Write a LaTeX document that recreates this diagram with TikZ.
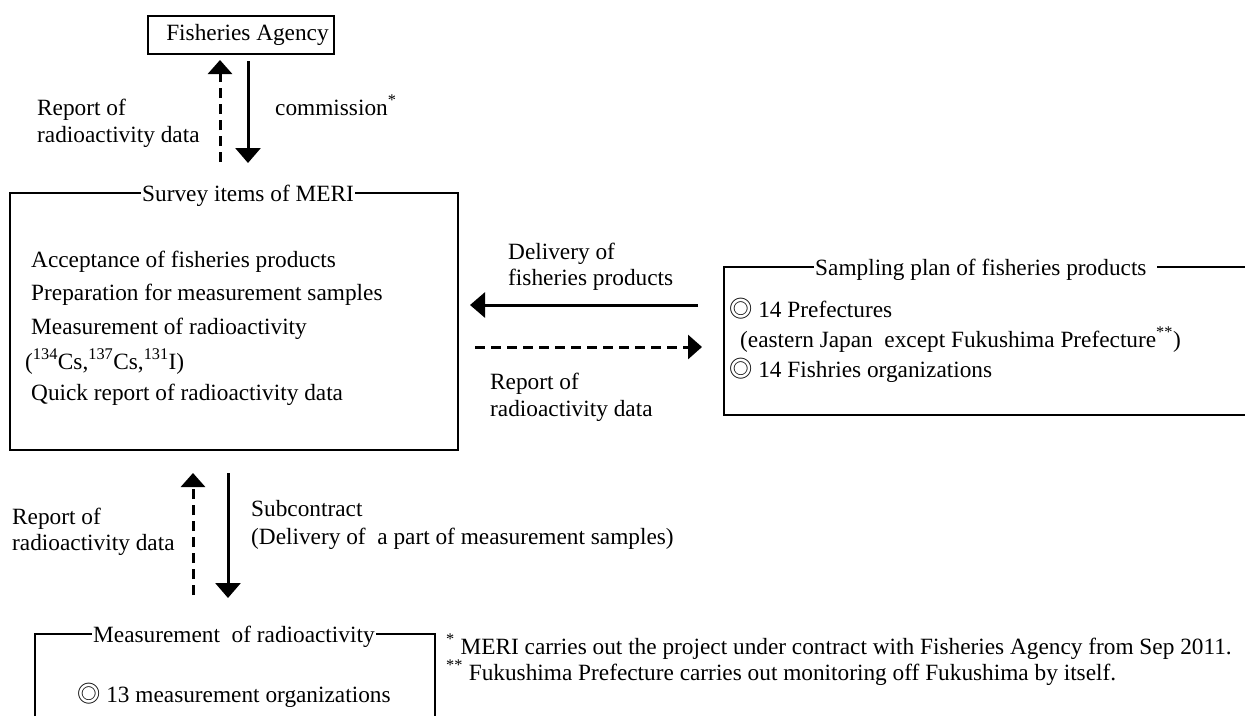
\documentclass[tikz,border=0pt]{standalone}
\usepackage{fontspec}
\setmainfont{Liberation Serif}
\newfontfamily\cjk{Noto Sans CJK JP}
\usetikzlibrary{arrows.meta}
\newcommand{\dmark}{{\cjk ◎}}
\tikzset{
  txt/.style={inner sep=0pt, anchor=base west, font=\fontsize{23.3}{27}\selectfont},
  ttl/.style={inner xsep=1pt, inner ysep=0pt, fill=white, anchor=base west, font=\fontsize{23.3}{27}\selectfont},
  boxline/.style={line width=1.8pt},
  solidarrow/.style={line width=3pt, -{Triangle[width=25pt,length=15pt]}},
  dasharrow/.style={line width=3pt, dash pattern=on 10pt off 6pt, -{Triangle[width=24pt,length=14pt]}}
}
\begin{document}
\begin{tikzpicture}[x=1pt,y=-1pt]
\useasboundingbox (0,0) rectangle (1245,716);
\fill[white] (0,0) rectangle (1245,716);

% Fisheries Agency
\node[draw, boxline, minimum width=184pt, minimum height=38pt, inner xsep=5pt, inner ysep=0pt,
      font=\fontsize{23.3}{27}\selectfont] (fa) at (241,35) {\hspace*{13pt}Fisheries Agency};

% Survey box
\node[draw, boxline, minimum width=448pt, minimum height=257pt, inner sep=0pt] (survey) at (234,321.5) {};
\node[ttl] (surveyttl) at (141,201) {Survey items of MERI};
\node[txt] (s1) at (31,267) {Acceptance of fisheries products};
\node[txt] (s2) at (31,300) {Preparation for measurement samples};
\node[txt] (s3) at (31,334) {Measurement of radioactivity};
\node[txt] (s4) at (25,369) {(\textsuperscript{134}Cs,\textsuperscript{137}Cs,\textsuperscript{131}I)};
\node[txt] (s5) at (31,400) {Quick report of radioactivity data};

% Top arrows
\coordinate (t1a) at (220,162);
\coordinate (t1b) at (220,60);
\coordinate (t2a) at (248,61);
\coordinate (t2b) at (248,163);
\draw[dasharrow] (t1a) -- (t1b);
\draw[solidarrow] (t2a) -- (t2b);
\node[txt] (tl1) at (37,115) {Report of};
\node[txt] (tl2) at (37,142) {radioactivity data};
\node[txt] (tl3) at (275,115) {commission\textsuperscript{*}};

% Sampling box (open at right)
\coordinate (sp1) at (1245,267);
\coordinate (sp2) at (724,267);
\coordinate (sp3) at (724,415);
\coordinate (sp4) at (1245,415);
\draw[boxline] (sp1) -- (sp2) -- (sp3) -- (sp4);
\node[ttl, inner xsep=0pt] (spttl) at (814,275) {\hspace*{1pt}Sampling plan of fisheries products\hspace*{10pt}};
\node[txt] (p1) at (729,317) {\dmark\ 14 Prefectures};
\node[txt] (p2) at (740,347) {(eastern Japan\ \ except Fukushima Prefecture\textsuperscript{**})};
\node[txt] (p3) at (729,377) {\dmark\ 14 Fishries organizations};

% Middle arrows
\coordinate (m1a) at (698,305);
\coordinate (m1b) at (470,305);
\coordinate (m2a) at (475,347);
\coordinate (m2b) at (702,347);
\draw[solidarrow] (m1a) -- (m1b);
\draw[dasharrow] (m2a) -- (m2b);
\node[txt] (ml1) at (508,259) {Delivery of};
\node[txt] (ml2) at (508,285) {fisheries products};
\node[txt] (ml3) at (490,389) {Report of};
\node[txt] (ml4) at (490,416) {radioactivity data};

% Bottom arrows
\coordinate (b1a) at (193,595);
\coordinate (b1b) at (193,473);
\coordinate (b2a) at (228,473);
\coordinate (b2b) at (228,598);
\draw[dasharrow] (b1a) -- (b1b);
\draw[solidarrow] (b2a) -- (b2b);
\node[txt] (bl1) at (12,524) {Report of};
\node[txt] (bl2) at (12,550) {radioactivity data};
\node[txt] (bl3) at (251,516) {Subcontract};
\node[txt] (bl4) at (251,544) {(Delivery of\ \ a part of measurement samples)};

% Measurement box (open at bottom)
\coordinate (mb1) at (35,716);
\coordinate (mb2) at (35,634);
\coordinate (mb3) at (435,634);
\coordinate (mb4) at (435,716);
\draw[boxline] (mb1) -- (mb2) -- (mb3) -- (mb4);
\node[ttl] (mbttl) at (92,642) {Measurement\ \ of radioactivity};
\node[txt] (mb5) at (77,702) {\dmark\ 13 measurement organizations};

% Footnotes
\node[txt] (fn1) at (446,654) {\textsuperscript{*} MERI carries out the project under contract with Fisheries Agency from Sep 2011.};
\node[txt] (fn2) at (446,680) {\textsuperscript{**} Fukushima Prefecture carries out monitoring off Fukushima by itself.};
\end{tikzpicture}
\end{document}
